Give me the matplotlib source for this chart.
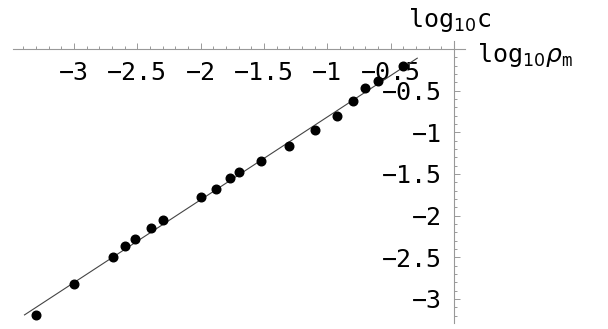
import matplotlib
matplotlib.use('Agg')
import matplotlib.pyplot as plt
from matplotlib.ticker import MultipleLocator, FixedLocator, FixedFormatter

# data (log10 rho_m, log10 c)
log_rho = [-3.30, -3.00, -2.69, -2.60, -2.52, -2.39, -2.30, -2.00, -1.88, -1.77,
           -1.70, -1.52, -1.30, -1.10, -0.92, -0.795, -0.70, -0.60, -0.40]
log_c = [-3.19, -2.82, -2.50, -2.37, -2.28, -2.15, -2.05, -1.78, -1.68, -1.55,
         -1.48, -1.35, -1.17, -0.97, -0.80, -0.62, -0.47, -0.39, -0.21]

# fitted line
fit_x = [-3.39, -0.29]
fit_slope = 0.994
fit_icpt = 0.178

x_ticks = [-3, -2.5, -2, -1.5, -1, -0.5]
x_labels = ['\u22123', '\u22122.5', '\u22122', '\u22121.5', '\u22121', '\u22120.5']
y_ticks = [-3, -2.5, -2, -1.5, -1, -0.5]
y_labels = ['\u22123', '\u22122.5', '\u22122', '\u22121.5', '\u22121', '\u22120.5']

W, H = 608, 329
fig = plt.figure(figsize=(W / 100, H / 100), dpi=100)
ax = fig.add_axes([13.1 / W, 5.9 / H, (465.4 - 13.1) / W, (287.5 - 5.9) / H])

fit_y = [fit_slope * x + fit_icpt for x in fit_x]
ax.plot(fit_x, fit_y, color='#444444', lw=0.8)
ax.plot(log_rho, log_c, 'o', color='black', ms=6.2)

ax.set_xlim(-3.48, 0.09)
ax.set_ylim(-3.29, 0.09)

# mathematica style axes through the origin
for s in ['top', 'right']:
    ax.spines[s].set_visible(False)
ax.spines['left'].set_position(('data', 0))
ax.spines['bottom'].set_position(('data', 0))
for s in ['left', 'bottom']:
    ax.spines[s].set_color('#999999')
    ax.spines[s].set_linewidth(0.8)

ax.xaxis.set_major_locator(FixedLocator(x_ticks))
ax.xaxis.set_major_formatter(FixedFormatter(x_labels))
ax.yaxis.set_major_locator(FixedLocator(y_ticks))
ax.yaxis.set_major_formatter(FixedFormatter(y_labels))
ax.xaxis.set_minor_locator(MultipleLocator(0.1))
ax.yaxis.set_minor_locator(MultipleLocator(0.1))
ax.tick_params(which='both', direction='in', color='#999999', width=0.7)
ax.tick_params(which='major', length=4)
ax.tick_params(which='minor', length=2)
ax.tick_params(axis='x', which='major', pad=9)
ax.tick_params(axis='y', which='major', pad=9)
for lab in ax.get_xticklabels() + ax.get_yticklabels():
    lab.set_fontfamily('DejaVu Sans Mono')
    lab.set_fontsize(18)

fig.text(408 / W, 1 - 27 / H, 'log$_{10}$c', family='DejaVu Sans Mono',
         fontsize=18, va='baseline', ha='left')
fig.text(477 / W, 1 - 62 / H, 'log$_{10}\\rho_{\\mathtt{m}}$', family='DejaVu Sans Mono',
         fontsize=18, va='baseline', ha='left')

fig.savefig('out.png', dpi=100)
